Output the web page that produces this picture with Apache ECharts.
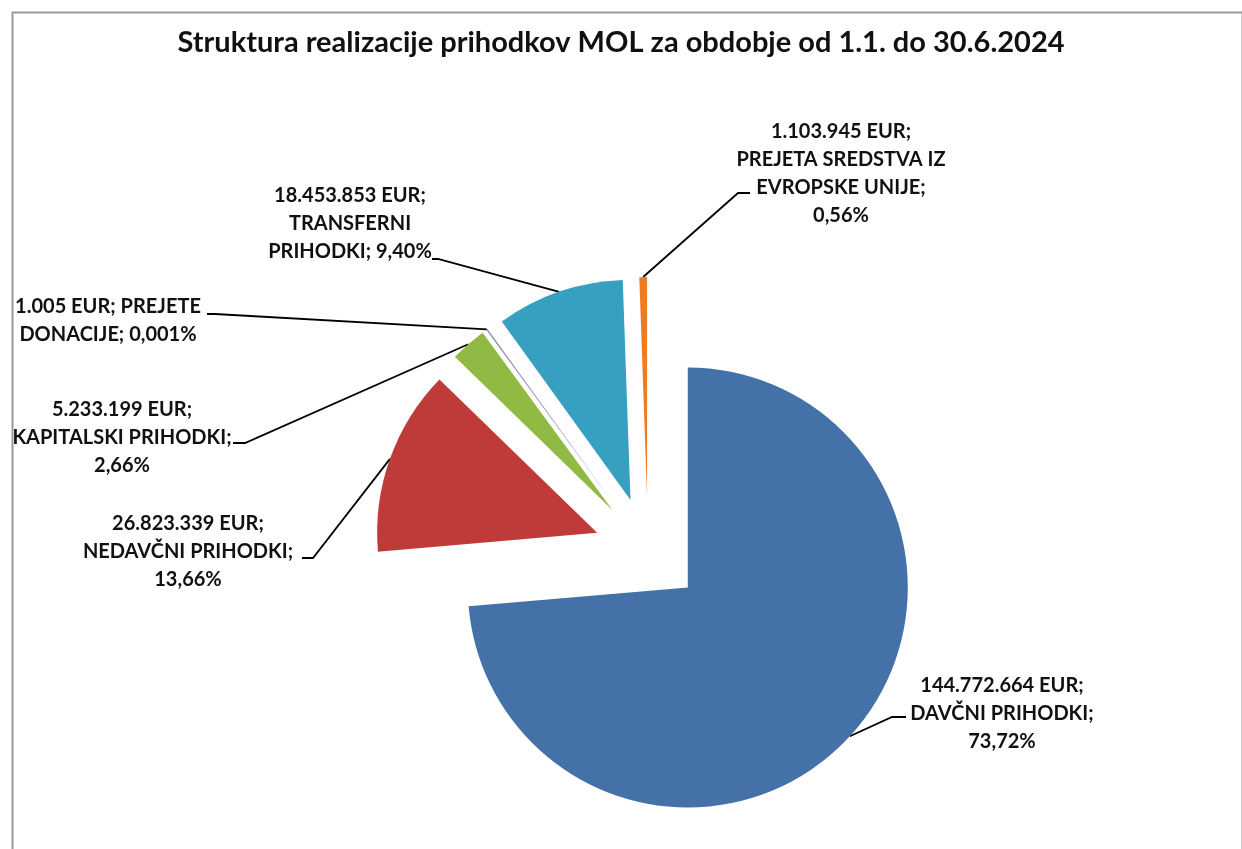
<!DOCTYPE html>
<html><head><meta charset="utf-8">
<script src="https://cdn.jsdelivr.net/npm/echarts@6/dist/echarts.min.js"></script>
<style>html,body{margin:0;padding:0;background:#fff}#c{width:1242px;height:849px}</style>
</head><body><div id="c"></div>
<script>
const titleText = 'Struktura realizacije prihodkov MOL za obdobje od 1.1. do 30.6.2024';
const categories = ['DAVČNI PRIHODKI','NEDAVČNI PRIHODKI','KAPITALSKI PRIHODKI','PREJETE DONACIJE','TRANSFERNI PRIHODKI','PREJETA SREDSTVA IZ EVROPSKE UNIJE'];
const values = [144772664, 26823339, 5233199, 1005, 18453853, 1103945];
const percentLabels = ['73,72%','13,66%','2,66%','0,001%','9,40%','0,56%'];
// label wrapping as shown in the original ({v}=value, {p}=percent)
const labelTemplates = [
  '{v} EUR;\nDAVČNI PRIHODKI;\n{p}',
  '{v} EUR;\nNEDAVČNI PRIHODKI;\n{p}',
  '{v} EUR;\nKAPITALSKI PRIHODKI;\n{p}',
  '{v} EUR; PREJETE\nDONACIJE; {p}',
  '{v} EUR;\nTRANSFERNI\nPRIHODKI; {p}',
  '{v} EUR;\nPREJETA SREDSTVA IZ\nEVROPSKE UNIJE;\n{p}'
];
const colors = ['#4472A8','#BE3B3A','#91BA45','#8C8DB5','#37A0C0','#F07C22'];

// label placement (layout only)
const labelPlacement = [
  {x:1002, y:714, elbow:[892,717], end:[906,717]},
  {x:188,  y:552, elbow:[313,558], end:[302,558]},
  {x:122,  y:438, elbow:[245,443], end:[233,443]},
  {x:108,  y:321, elbow:[215,314], end:[207,314]},
  {x:350,  y:224, elbow:[438,259], end:[432,259]},
  {x:841,  y:174, elbow:[738,193], end:[750,193]}
];
const PIE_CENTER = [648, 551], PIE_R = 220, EXPLODE = 54, MIN_ANGLE = 0.4;

function fmt(v){ return String(v).replace(/\B(?=(\d{3})+(?!\d))/g, '.'); }

const chart = echarts.init(document.getElementById('c'), null, {renderer:'canvas'});

function arcPoint(i){
  try {
    const lay = chart.getModel().getSeriesByIndex(1).getData().getItemLayout(i);
    const mid = (lay.startAngle + lay.endAngle) / 2;
    const R = lay.r + EXPLODE;
    return [lay.cx + Math.cos(mid) * R, lay.cy + Math.sin(mid) * R];
  } catch(e) {
    const total = values.reduce((a,b)=>a+b,0);
    let acc = 0; for (let k=0;k<i;k++) acc += values[k];
    const phi = (acc + values[i]/2) / total * 2 * Math.PI;
    const R = PIE_R + EXPLODE;
    return [PIE_CENTER[0] + Math.sin(phi)*R, PIE_CENTER[1] - Math.cos(phi)*R];
  }
}

const FONT = 'Lato, "Open Sans", sans-serif';

chart.setOption({
  animation: false,
  backgroundColor: '#ffffff',
  title: {
    text: titleText, left: 'center', top: 23,
    textStyle: {fontFamily: FONT, fontWeight: 'bold', fontSize: 29, color: '#111'}
  },
  graphic: [{
    type: 'rect', left: 10, top: 10, silent: true,
    shape: {width: 1230, height: 860},
    style: {fill: 'none', stroke: '#9a9a9a', lineWidth: 2}
  }],
  series: [{
    // visible exploded pie
    type: 'pie',
    center: PIE_CENTER,
    radius: PIE_R,
    startAngle: 90,
    clockwise: true,
    minAngle: MIN_ANGLE,
    selectedMode: 'multiple',
    selectedOffset: EXPLODE,
    emphasis: {disabled: true},
    itemStyle: {borderWidth: 0},
    label: {show: false},
    labelLine: {show: false},
    data: categories.map((n,i)=>({name: n, value: values[i], selected: true, itemStyle: {color: colors[i]}}))
  }, {
    // label carrier (same layout, transparent sectors)
    type: 'pie',
    center: PIE_CENTER,
    radius: PIE_R,
    startAngle: 90,
    clockwise: true,
    minAngle: MIN_ANGLE,
    silent: true,
    avoidLabelOverlap: false,
    emphasis: {disabled: true},
    itemStyle: {color: 'rgba(0,0,0,0)', borderWidth: 0},
    label: {
      show: true, position: 'outside',
      formatter: function(p){
        return labelTemplates[p.dataIndex].replace('{v}', fmt(values[p.dataIndex])).replace('{p}', percentLabels[p.dataIndex]);
      },
      fontFamily: FONT, fontWeight: 'bold', fontSize: 20, lineHeight: 28, color: '#111',
      align: 'center'
    },
    labelLine: {show: true, lineStyle: {color: '#000', width: 1.8, opacity: 1}},
    labelLayout: function(p){
      const L = labelPlacement[p.dataIndex];
      return {
        x: L.x, y: L.y, align: 'center', verticalAlign: 'middle',
        labelLinePoints: [arcPoint(p.dataIndex), L.elbow, L.end]
      };
    },
    data: categories.map((n,i)=>({name: n, value: values[i]}))
  }]
});
</script>
</body></html>
